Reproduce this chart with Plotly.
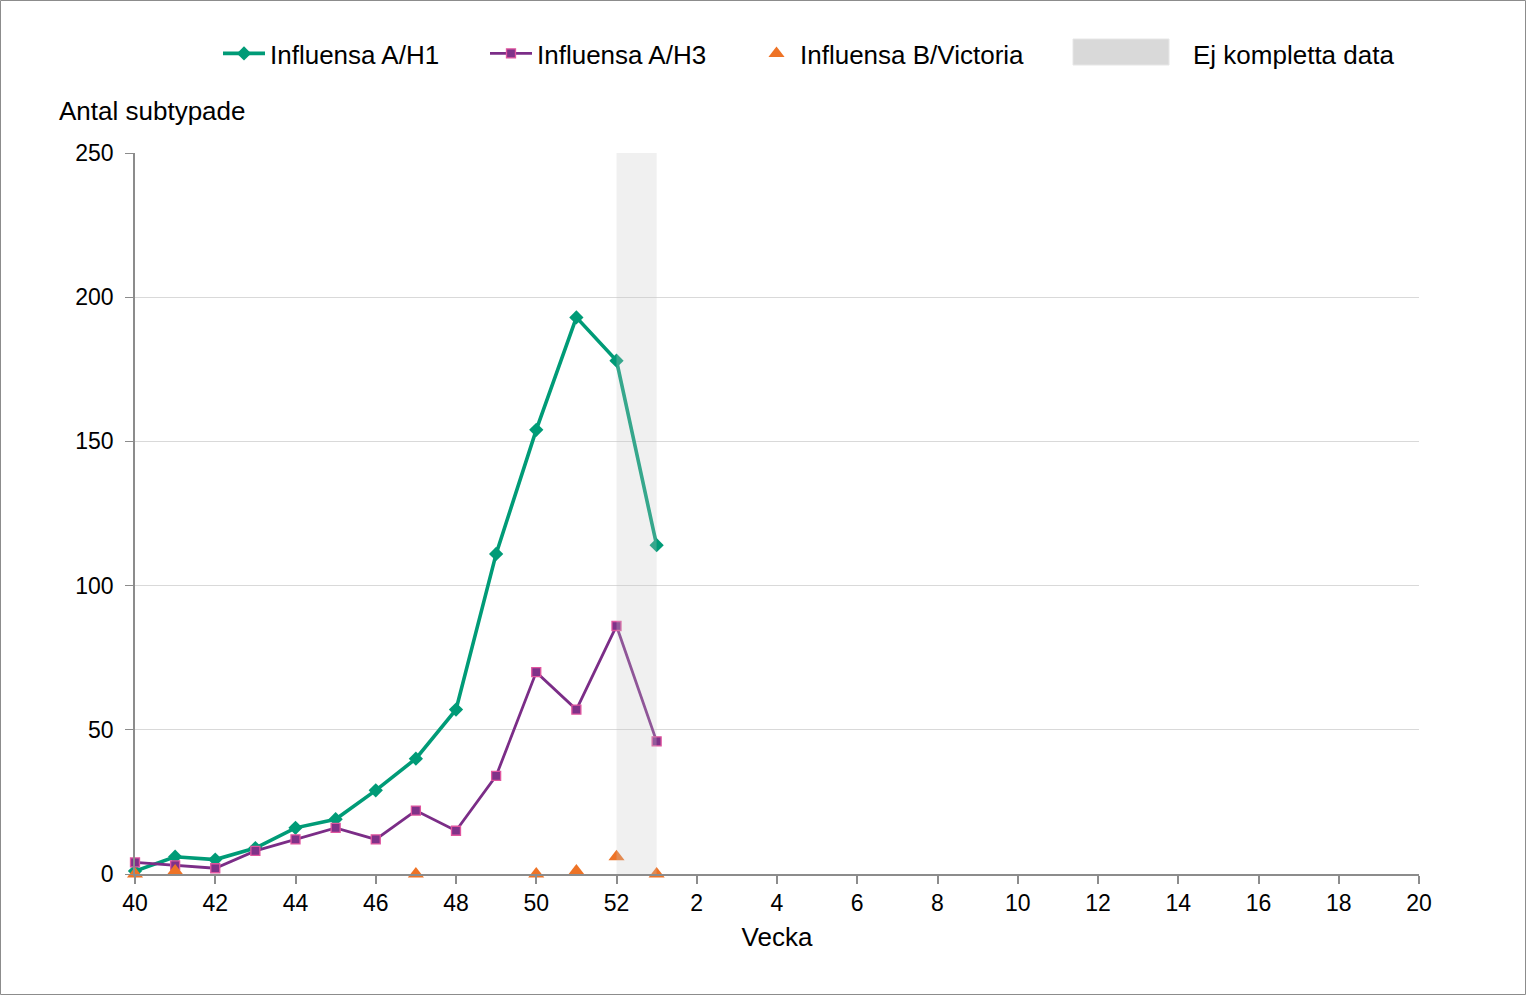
import plotly.graph_objects as go

weeks = [str(w) for w in list(range(40, 53)) + list(range(1, 21))]
a_h1 = [1, 6, 5, 9, 16, 19, 29, 40, 57, 111, 154, 193, 178, 114]
a_h3 = [4, 3, 2, 8, 12, 16, 12, 22, 15, 34, 70, 57, 86, 46]
b_vic = [0, 1, None, None, None, None, None, 0, None, None, 0, 1, 6, 0]
incomplete_weeks = ["52", "1"]
y_ticks = [0, 50, 100, 150, 200, 250]

FONT = "Liberation Sans, Arial, sans-serif"
GREEN = "#009B77"
PURPLE = "#7B2D87"
ORANGE = "#EE7326"

W, H = 1526, 995
ML, MR, MT, MB = 135, 107, 153, 121
PW, PH = W - ML - MR, H - MT - MB


def px_x(p):
    return (p - ML) / PW


def px_y(p):
    return (H - MB - p) / PH


fig = go.Figure()
fig.add_trace(go.Scatter(
    x=weeks[:len(a_h1)], y=a_h1, mode="lines+markers", name="Influensa A/H1",
    line=dict(color=GREEN, width=3.6),
    marker=dict(symbol="diamond", size=11, color=GREEN),
    cliponaxis=False, legend="legend",
))
fig.add_trace(go.Scatter(
    x=weeks[:len(a_h3)], y=a_h3, mode="lines+markers", name="Influensa A/H3",
    line=dict(color=PURPLE, width=2.8),
    marker=dict(symbol="square", size=9, color="#7F3289",
                line=dict(color="#E0559F", width=1.3)),
    cliponaxis=False, legend="legend",
))
fig.add_trace(go.Scatter(
    x=weeks[:len(b_vic)], y=b_vic, mode="markers", name="Influensa B/Victoria",
    marker=dict(symbol="triangle-up", size=14, color=ORANGE),
    cliponaxis=False, legend="legend2",
))

i0 = weeks.index(incomplete_weeks[0])
i1 = weeks.index(incomplete_weeks[1])
fig.add_shape(type="rect", xref="x", yref="paper", x0=i0, x1=i1, y0=0, y1=1,
              fillcolor="rgba(200,200,200,0.27)", line=dict(width=0), layer="above")

# legend entry for the band
fig.add_shape(type="rect", xref="paper", yref="paper",
              x0=px_x(1073), x1=px_x(1169), y0=px_y(65), y1=px_y(39),
              fillcolor="#D9D9D9", line=dict(color="#E6E6E6", width=1))
fig.add_annotation(xref="paper", yref="paper", x=px_x(1191), y=px_y(55),
                   text="Ej kompletta data", showarrow=False, xanchor="left",
                   yanchor="middle", font=dict(family=FONT, size=26, color="#000"))
fig.add_annotation(xref="paper", yref="paper", x=px_x(57), y=px_y(111),
                   text="Antal subtypade", showarrow=False, xanchor="left",
                   yanchor="middle", font=dict(family=FONT, size=26, color="#000"))

# figure border
fig.add_shape(type="rect", xref="paper", yref="paper",
              x0=px_x(0.5), x1=px_x(W - 0.5), y0=px_y(H - 0.5), y1=px_y(0.5),
              line=dict(color="#8C8C8C", width=1), fillcolor="rgba(0,0,0,0)")

legend_common = dict(orientation="h", yanchor="top", xanchor="left", y=px_y(30),
                     font=dict(family=FONT, size=26), bgcolor="rgba(0,0,0,0)")

fig.update_layout(
    width=W, height=H,
    margin=dict(l=ML, r=MR, t=MT, b=MB, autoexpand=False),
    paper_bgcolor="white", plot_bgcolor="white",
    font=dict(family=FONT, size=22, color="#000"),
    legend=dict(x=px_x(218), itemwidth=42, entrywidth=210, **legend_common),
    legend2=dict(x=px_x(753), itemwidth=37, **legend_common),
    xaxis=dict(type="category", categoryorder="array", categoryarray=weeks,
               range=[0, len(weeks) - 1], dtick=2, tick0=0,
               showgrid=False, showline=True, linecolor="#8C8C8C", linewidth=1.5,
               ticks="outside", ticklen=8, tickcolor="#8C8C8C", tickwidth=1.5,
               tickfont=dict(family=FONT, size=23),
               title=dict(text="Vecka", font=dict(family=FONT, size=26), standoff=12),
               zeroline=False),
    yaxis=dict(range=[0, 250], tickvals=y_ticks, showgrid=True, gridcolor="#D9D9D9",
               gridwidth=1, showline=True, linecolor="#8C8C8C", linewidth=1.5,
               ticks="outside", ticklen=8, tickcolor="#8C8C8C",
               ticklabelstandoff=7,
               tickfont=dict(family=FONT, size=23), zeroline=False),
)

fig.write_html("out.html", config={"displayModeBar": False},
               post_script="document.body.style.margin='0';")
